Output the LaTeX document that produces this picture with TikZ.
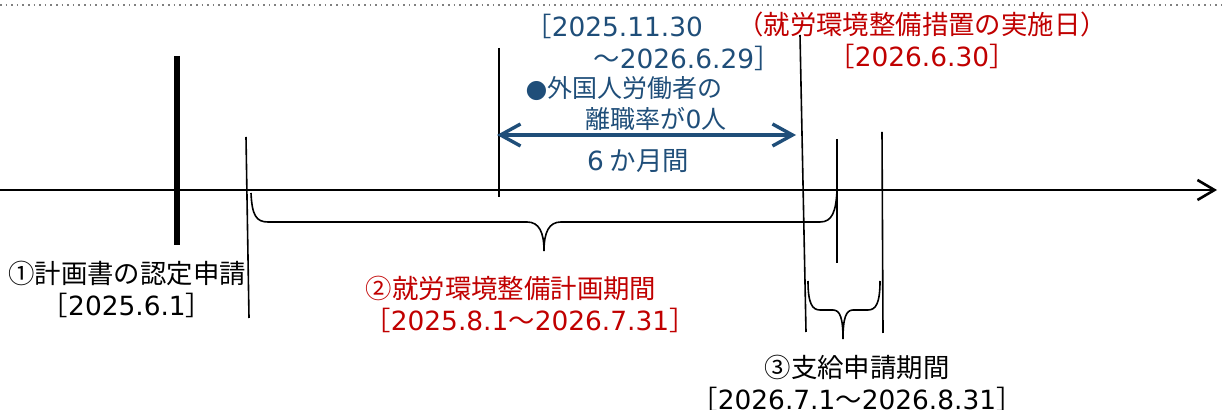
\documentclass[tikz,border=0pt]{standalone}
\usepackage{fontspec}
\setmainfont{Noto Sans CJK JP}
\newfontfamily\numfont{DejaVu Sans}
\newcommand{\dt}[1]{{\numfont #1}}
\usetikzlibrary{arrows.meta}
\definecolor{planblue}{RGB}{31,78,121}
\definecolor{planred}{RGB}{192,0,0}

\begin{document}
\begin{tikzpicture}[x=0.5pt, y=-0.5pt,
    lbl/.style={align=center, font=\fontsize{13.2pt}{16pt}\selectfont, inner sep=0pt},
    tick/.style={line width=0.8pt},
    brc/.style={line width=0.8pt}]
  \useasboundingbox (0,0) rectangle (1225,410);
  \draw[gray, dotted, line width=0.8pt] (0,5) -- (1225,5);

  % time axis
  \coordinate (ax-l) at (0,190);
  \coordinate (ax-r) at (1217,190);
  \draw[line width=1.3pt, -{Straight Barb[length=8.5pt, width=10pt]}] (ax-l) -- (ax-r);

  % marks on the axis
  \coordinate (rq-t) at (177,56);  \coordinate (rq-b) at (177,245);
  \coordinate (ps-t) at (246,137); \coordinate (ps-b) at (249,318);
  \coordinate (cs-t) at (499,48);  \coordinate (cs-b) at (499,197);
  \coordinate (ex-t) at (800,35);  \coordinate (ex-b) at (806,332);
  \coordinate (pe-t) at (837,139); \coordinate (pe-b) at (837,263);
  \coordinate (pa-t) at (882,132); \coordinate (pa-b) at (883,333);
  \draw[line width=3pt] (rq-t) -- (rq-b);
  \draw[tick] (ps-t) -- (ps-b);
  \draw[tick] (cs-t) -- (cs-b);
  \draw[tick] (ex-t) -- (ex-b);
  \draw[tick] (pe-t) -- (pe-b);
  \draw[tick] (pa-t) -- (pa-b);

  % six months without leavers
  \coordinate (sm-l) at (497,135);
  \coordinate (sm-r) at (796,135);
  \draw[planblue, line width=1.7pt,
    {Straight Barb[length=10pt, width=11pt]}-{Straight Barb[length=10pt, width=11pt]}] (sm-l) -- (sm-r);

  % braces
  \coordinate (pb-l) at (251,193);
  \coordinate (pb-r) at (837,190);
  \draw[brc] (pb-l) .. controls (252,215) and (256,222) .. (268,222) -- (527,222)
    .. controls (539,222) and (544,232) .. (544,251)
    .. controls (544,232) and (549,222) .. (561,222) -- (820,222)
    .. controls (832,222) and (836,212) .. (pb-r);
  \coordinate (sb-l) at (808,281);
  \coordinate (sb-r) at (880,281);
  \draw[brc] (sb-l) .. controls (808,303) and (812,310) .. (820,310) -- (833,310)
    .. controls (840,310) and (843,318) .. (843,339)
    .. controls (843,318) and (846,310) .. (853,310) -- (868,310)
    .. controls (876,310) and (880,303) .. (sb-r);

  % labels
  \node[lbl] (apply) at (127,289) {①計画書の認定申請\\［\dt{2025.6.1}］};
  \node[lbl, planred] (plan) at (511,304) {②就労環境整備計画期間\\\hspace*{19pt}［\dt{2025.8.1}～\dt{2026.7.31}］};
  \node[lbl, planblue, align=left] (range) at (653,42) {［\dt{2025.11.30}\\\hspace*{34pt}～\dt{2026.6.29}］};
  \node[lbl, planblue, align=left, font=\fontsize{12.5pt}{15.5pt}\selectfont] (calm) at (626,104) {\dt{●}外国人労働者の\\\hspace*{30pt}離職率が\dt{0}人};
  \node[lbl, planblue] (six) at (638,161) {\dt{6} か月間};
  \node[lbl, planred] (exec) at (922,40) {（就労環境整備措置の実施日）\\［\dt{2026.6.30}］};
  \node[lbl] (pay) at (857,383) {③支給申請期間\\［\dt{2026.7.1}～\dt{2026.8.31}］};
\end{tikzpicture}
\end{document}
